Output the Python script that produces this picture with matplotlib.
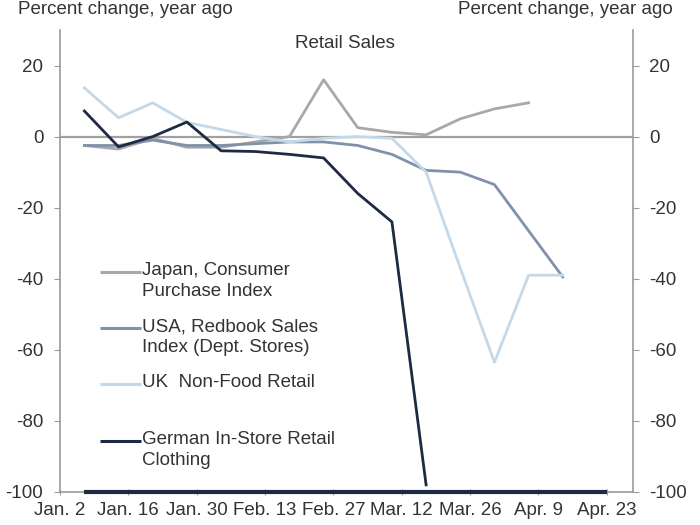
import datetime as dt
import matplotlib
matplotlib.use("Agg")
import matplotlib.pyplot as plt

plt.rcParams['font.family'] = ['Liberation Sans', 'DejaVu Sans']
plt.rcParams['axes.unicode_minus'] = False

# weekly observations (2020)
weeks = ["2020-01-07", "2020-01-14", "2020-01-21", "2020-01-28", "2020-02-04",
         "2020-02-11", "2020-02-18", "2020-02-25", "2020-03-03", "2020-03-10",
         "2020-03-17", "2020-03-24", "2020-03-31", "2020-04-07", "2020-04-14"]

japan = [-2.5, -3.5, -0.5, -3.0, -3.0, -1.5, 0.0, 16.0, 2.5, 1.2, 0.5, 5.0, 7.8, 9.5]
usa = [-2.5, -2.5, -1.0, -2.5, -2.5, -2.0, -1.5, -1.5, -2.5, -5.0, -9.5, -10.0, -13.5, -26.5, -39.5]
uk = [13.7, 5.3, 9.5, 4.0, 2.0, 0.0, -1.5, -0.5, 0.0, -0.5, -10.0, -37.0, -63.5, -39.0, -39.0]
german = [7.2, -2.9, 0.0, 4.1, -4.0, -4.2, -5.0, -6.0, -16.0, -24.0, -98.0]

series_names = ["Japan, Consumer\nPurchase Index",
                "USA, Redbook Sales\nIndex (Dept. Stores)",
                "UK  Non-Food Retail",
                "German In-Store Retail\nClothing"]
series_colors = ["#a8a8a8", "#8092aa", "#c3d9ea", "#1d2b42"]

tick_dates = ["2020-01-02", "2020-01-16", "2020-01-30", "2020-02-13", "2020-02-27",
              "2020-03-12", "2020-03-26", "2020-04-09", "2020-04-23"]
tick_labels = ["Jan. 2", "Jan. 16", "Jan. 30", "Feb. 13", "Feb. 27",
               "Mar. 12", "Mar. 26", "Apr. 9", "Apr. 23"]
y_ticks = [-100, -80, -60, -40, -20, 0, 20]

to_date = lambda s: dt.datetime.strptime(s, "%Y-%m-%d")
x = [to_date(w) for w in weeks]
xt = [to_date(t) for t in tick_dates]

txt = "#333333"
fig = plt.figure(figsize=(7, 5.25), dpi=100)
ax = fig.add_axes([0.0857, 0.0629, 0.818, 0.88])

ax.axhline(0, color="#a0a0a0", lw=1.6, zorder=1)
ax.hlines(-100, x[0], xt[-1], color="#1d2b42", lw=3, zorder=3, clip_on=False)

data = [japan, usa, uk, german]
for vals, name, col in zip(data, series_names, series_colors):
    ax.plot(x[:len(vals)], vals, color=col, lw=2, zorder=2)

ax.set_ylim(-100, 30)
ax.set_xlim(xt[0], xt[-1] + dt.timedelta(days=5.3))
ax.set_yticks(y_ticks)
ax.set_xticks(xt)
ax.set_xticklabels(tick_labels)

ax.spines["top"].set_visible(False)
for s in ["left", "right", "bottom"]:
    ax.spines[s].set_color("#9a9a9a")
    ax.spines[s].set_linewidth(1.2)

ax.tick_params(axis="y", which="both", left=True, right=True, labelleft=True,
               labelright=True, length=4, pad=8, color="#9a9a9a",
               labelsize=13.5, labelcolor=txt)
ax.tick_params(axis="x", direction="inout", length=5, pad=5, color="#9a9a9a",
               labelsize=13.5, labelcolor=txt)

ax.text(0.497, 0.97, "Retail Sales", transform=ax.transAxes, ha="center",
        va="center", fontsize=13.5, color=txt)

fig.text(0.026, 0.974, "Percent change, year ago", ha="left", va="baseline",
         fontsize=13.5, color=txt)
fig.text(0.961, 0.974, "Percent change, year ago", ha="right", va="baseline",
         fontsize=13.5, color=txt)

# legend drawn by hand so the handle sits on the first text line
leg_y = [0.476, 0.355, 0.234, 0.110]
for yy, name, col in zip(leg_y, series_names, series_colors):
    ax.plot([0.07, 0.142], [yy, yy], color=col, lw=2.2, transform=ax.transAxes,
            solid_capstyle="butt")
    ax.text(0.143, yy + 0.021, name, transform=ax.transAxes, ha="left",
            va="top", fontsize=13.5, color=txt, linespacing=1.25)

fig.savefig("out.png", dpi=100)
